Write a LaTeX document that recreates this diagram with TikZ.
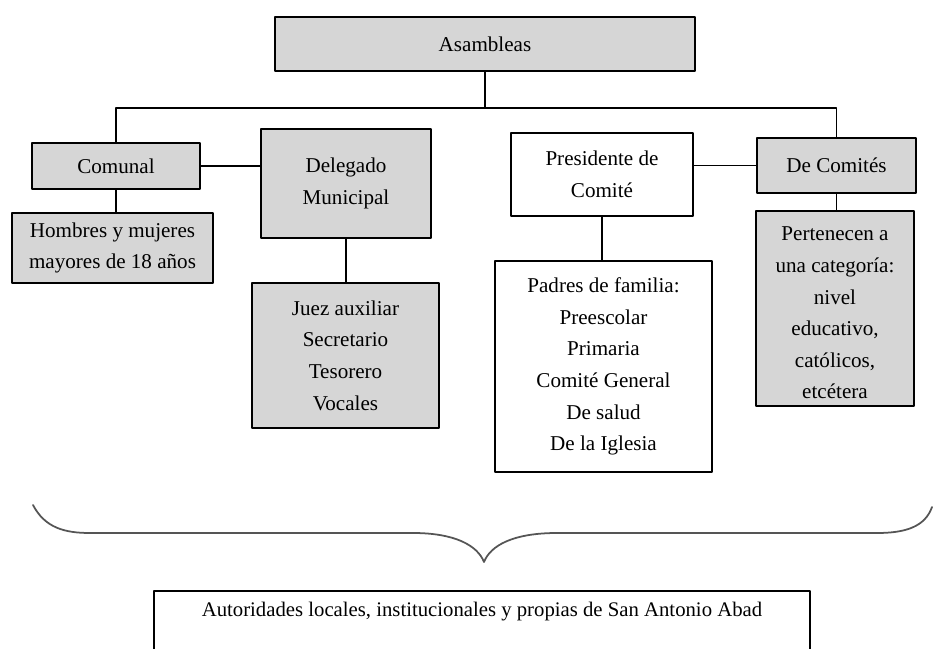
\documentclass[tikz,border=0pt]{standalone}
\usepackage{fontspec}
\setmainfont{Liberation Serif}
\definecolor{boxgray}{HTML}{D6D6D6}
\definecolor{bracegray}{HTML}{555555}
\tikzset{
  every picture/.style={line join=round, line cap=round},
  orgbox/.style={draw, line width=1.1pt, align=center, inner sep=0pt, font=\fontsize{12}{18}\selectfont},
  shadedbox/.style={orgbox, fill=boxgray},
  openbox/.style={orgbox, fill=white},
  link/.style={line width=1pt},
}

\begin{document}
\begin{tikzpicture}
\clip (0,0) rectangle (18.66,12.96);
% top
\node[shadedbox, minimum width=8.4cm, minimum height=1.08cm] (asam) at (9.70,12.08) {Asambleas};
% second row
\node[shadedbox, minimum width=3.36cm, minimum height=0.92cm] (comunal) at (2.32,9.64) {Comunal};
\node[shadedbox, minimum width=3.40cm, minimum height=2.18cm] (deleg) at (6.92,9.29) {Delegado\\Municipal};
\node[openbox, minimum width=3.64cm, minimum height=1.66cm] (pres) at (12.04,9.47) {Presidente de\\Comité};
\node[shadedbox, minimum width=3.18cm, minimum height=1.10cm] (decom) at (16.73,9.65) {De Comités};
% third row
\node[shadedbox, minimum width=4.02cm, minimum height=1.40cm] (hombres) at (2.25,8.00) {Hombres y mujeres\\mayores de 18 años};
\node[shadedbox, minimum width=3.74cm, minimum height=2.90cm] (juez) at (6.91,5.85) {Juez auxiliar\\Secretario\\Tesorero\\Vocales};
\node[openbox, minimum width=4.34cm, minimum height=4.22cm] (padres) at (12.07,5.63) {Padres de familia:\\Preescolar\\Primaria\\Comité General\\De salud\\De la Iglesia};
\node[shadedbox, minimum width=3.16cm, minimum height=3.90cm] (pert) at (16.70,6.79) {\rule{0pt}{13pt}Pertenecen a\\una categoría:\\nivel\\educativo,\\católicos,\\etcétera};
% bottom
\node[openbox, minimum width=13.12cm, minimum height=1.8cm, anchor=north] (autor) at (9.64,1.16) {};
\node[font=\fontsize{11.8}{14}\selectfont] (autorlbl) at (9.64,0.72) {Autoridades locales, institucionales y propias de San Antonio Abad};

% connectors
\draw[link] (asam.south) -- ++(0,-0.72) coordinate (bus);
\draw[link] (comunal.north) |- (bus) -| (decom.north);
\draw[link] (comunal.east) -- (comunal.east -| deleg.west);
\draw[link] (decom.west) -- (decom.west -| pres.east);
\draw[link] (comunal.south) -- (comunal.south |- hombres.north);
\draw[link] (deleg.south) -- (deleg.south |- juez.north);
\draw[link] (pres.south) -- (pres.south |- padres.north);
\draw[link] (decom.south) -- (decom.south |- pert.north);

% brace
\draw[line width=1pt, bracegray] (0.66,2.86) .. controls (0.9,2.40) and (1.3,2.30) .. (1.80,2.30)
  -- (8.26,2.30) .. controls (9.10,2.30) and (9.55,2.05) .. (9.68,1.72)
  .. controls (9.81,2.05) and (10.26,2.30) .. (11.14,2.30)
  -- (17.54,2.30) .. controls (18.10,2.30) and (18.50,2.42) .. (18.64,2.82);
\end{tikzpicture}
\end{document}
